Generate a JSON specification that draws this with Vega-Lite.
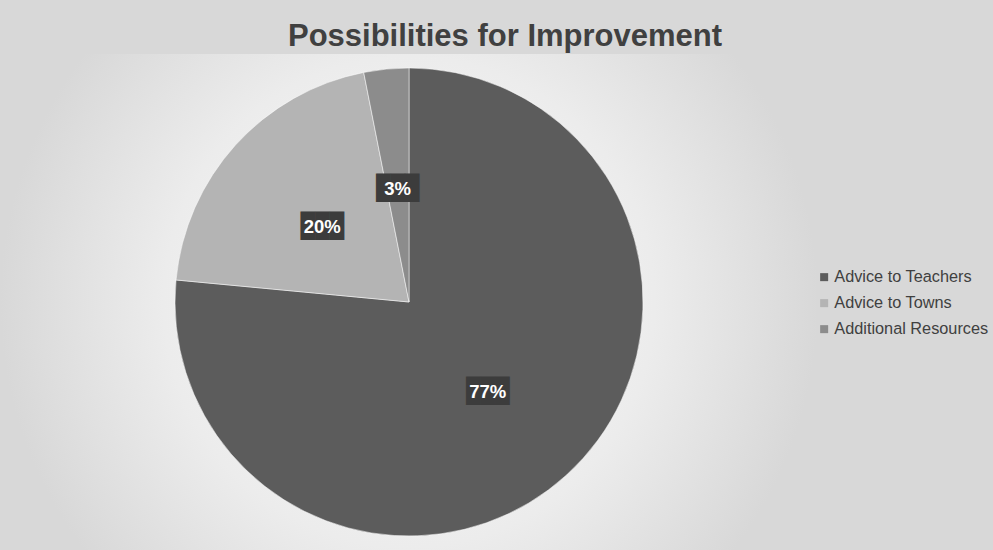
{
  "$schema": "https://vega.github.io/schema/vega-lite/v6.json",
  "autosize": {"type": "none"},
  "width": 818,
  "height": 496,
  "padding": {"left": 0, "top": 54, "right": 175, "bottom": 0},
  "background": "#d8d8d8",
  "title": {
    "text": "Possibilities for Improvement",
    "font": "Liberation Sans",
    "fontSize": 31,
    "fontWeight": "bold",
    "color": "#404040",
    "anchor": "middle",
    "baseline": "alphabetic",
    "dx": 96,
    "offset": -23
  },
  "data": {
    "values": [
      {"category": "Advice to Teachers", "share": 0.765},
      {"category": "Advice to Towns", "share": 0.204},
      {"category": "Additional Resources", "share": 0.031}
    ]
  },
  "config": {"view": {"stroke": null}},
  "layer": [
    {
      "mark": {
        "type": "rect",
        "fill": {
          "gradient": "radial",
          "x1": 0.5, "y1": 0.5, "r1": 0,
          "x2": 0.5, "y2": 0.5, "r2": 0.5,
          "stops": [
            {"offset": 0, "color": "#fcfcfc"},
            {"offset": 0.6, "color": "#ececec"},
            {"offset": 1, "color": "#d8d8d8"}
          ]
        }
      },
      "encoding": {}
    },
    {
      "mark": {"type": "arc", "outerRadius": 234, "stroke": "#ffffff", "strokeWidth": 0.5},
      "encoding": {
        "theta": {"field": "share", "type": "quantitative", "stack": true},
        "order": {"field": "share", "sort": "descending"},
        "color": {
          "field": "category",
          "type": "nominal",
          "scale": {
            "domain": ["Advice to Teachers", "Advice to Towns", "Additional Resources"],
            "range": ["#5c5c5c", "#b4b4b4", "#8c8c8c"]
          },
          "legend": {
            "title": null,
            "orient": "none",
            "legendX": 816,
            "legendY": 215,
            "symbolType": "square",
            "symbolSize": 64,
            "symbolStrokeWidth": 0,
            "labelFont": "Liberation Sans",
            "labelFontSize": 16.3,
            "labelColor": "#404040",
            "labelOffset": 2,
            "rowPadding": 9,
            "padding": 0
          }
        }
      }
    },
    {
      "mark": {
        "type": "text",
        "radius": 117,
        "font": "DejaVu Sans Mono",
        "fontSize": 24,
        "fill": "#3c3c3c",
        "dy": 3
      },
      "encoding": {
        "theta": {"field": "share", "type": "quantitative", "stack": true},
        "order": {"field": "share", "sort": "descending"},
        "text": {"value": "███"}
      }
    },
    {
      "mark": {
        "type": "text",
        "radius": 117,
        "font": "Liberation Sans",
        "fontSize": 18.5,
        "fontWeight": "bold",
        "fill": "#ffffff",
        "dy": 3
      },
      "encoding": {
        "theta": {"field": "share", "type": "quantitative", "stack": true},
        "order": {"field": "share", "sort": "descending"},
        "text": {"field": "share", "type": "quantitative", "format": ".0%"}
      }
    }
  ]
}
